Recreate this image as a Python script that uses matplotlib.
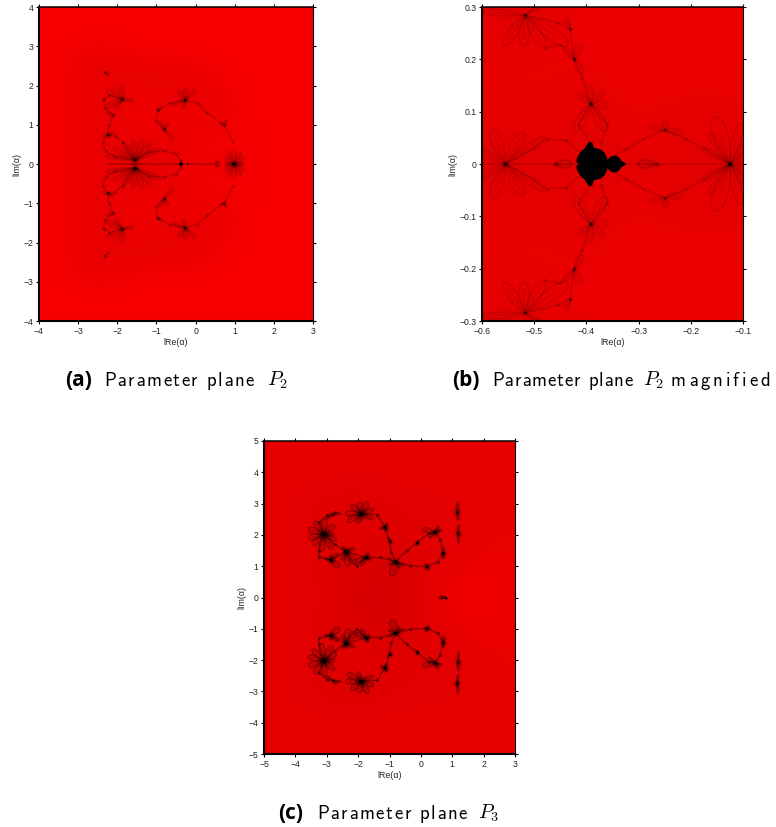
import numpy as np
import matplotlib
matplotlib.use("Agg")
import matplotlib.pyplot as plt
from matplotlib.colors import LinearSegmentedColormap
from matplotlib.patches import Polygon

W, H = 776, 827
plt.rcParams['font.family'] = ['Liberation Sans', 'DejaVu Sans']
plt.rcParams['mathtext.fontset'] = 'cm'
plt.rcParams['axes.unicode_minus'] = True

# ---- background red levels (upper half plane, bottom row is y = 0) ----
a_x = [-4, -3.5, -3, -2.5, -2, -1.5, -1, -.5, 0, .5, 1, 1.5, 2, 2.5, 3]
a_y = [0, .5, 1, 1.5, 2, 2.5, 3, 3.5, 4]
a_red = [
    [248, 246, 236, 234, 232, 228, 230, 234, 238, 242, 238, 244, 247, 248, 248],
    [248, 246, 236, 234, 232, 232, 234, 234, 238, 246, 240, 246, 248, 248, 248],
    [248, 246, 236, 234, 232, 240, 236, 240, 236, 238, 242, 247, 248, 248, 248],
    [248, 246, 236, 234, 232, 240, 236, 234, 234, 234, 240, 247, 248, 248, 248],
    [248, 246, 236, 234, 232, 232, 232, 232, 232, 236, 244, 248, 248, 248, 248],
    [248, 246, 236, 232, 232, 232, 232, 234, 238, 244, 248, 248, 248, 248, 248],
    [248, 248, 242, 240, 242, 246, 248, 248, 248, 248, 248, 248, 248, 248, 248],
    [248, 248, 248, 248, 248, 248, 248, 248, 248, 248, 248, 248, 248, 248, 248],
    [248, 248, 248, 248, 248, 248, 248, 248, 248, 248, 248, 248, 248, 248, 248],
]
b_x = [-.6, -.5, -.4, -.3, -.2, -.1]
b_y = [0, .1, .2, .3]
b_red = [
    [226, 226, 224, 228, 226, 226],
    [230, 232, 230, 234, 230, 232],
    [232, 234, 232, 236, 236, 236],
    [224, 224, 236, 236, 236, 236],
]
c_x = [-5, -4, -3, -2, -1, 0, 1, 2, 3]
c_y = [0, 1, 2, 3, 4, 5]
c_red = [
    [232, 226, 226, 216, 214, 226, 236, 250, 232],
    [232, 226, 224, 218, 214, 224, 230, 236, 232],
    [232, 226, 226, 228, 222, 226, 224, 232, 232],
    [232, 226, 222, 222, 224, 226, 226, 232, 232],
    [232, 232, 230, 228, 230, 232, 232, 232, 232],
    [232, 232, 232, 232, 232, 232, 232, 232, 232],
]

# ---- flowers: centre x, centre y, dot size, petals (angle, length, width) ----
a_flowers = [
    (-1.55, 0.10, 26, [(96, .50, .16), (68, .55, .16), (44, .62, .14), (24, .72, .14), (150, .62, .14),
                       (172, .75, .12), (125, .55, .14)]),
    (-1.87, 1.65, 12, [(95, .35, .14), (150, .45, .16), (205, .45, .16), (-10, .30, .10), (235, .30, .10)]),
    (-0.27, 1.62, 12, [(85, .30, .12), (45, .35, .12), (125, .30, .12), (200, .35, .12), (-100, .20, .08)]),
    (-0.80, 0.88, 8, [(-50, .35, .14), (120, .25, .12), (60, .2, .1)]),
    (0.73, 1.00, 5, [(60, .15, .08), (160, .12, .06)]),
    (-2.25, 0.75, 8, [(20, .15, .08), (200, .12, .08)]),
    (-2.12, 1.25, 5, [(150, .15, .08)]),
    (-0.97, 1.38, 5, [(30, .12, .06)]),
    (-2.32, 2.35, 5, [(-40, .15, .05)]),
    (0.98, 0.00, 10, [(90, .38, .14), (60, .34, .12), (30, .30, .10), (120, .36, .12), (0, .24, .10),
                      (150, .30, .10), (180, .22, .08)]),
    (0.52, 0.04, 2, [(0, .1, .08)]),
]
a_chains = [
    [(-2.35, 1.65), (-2.32, 1.42), (-2.12, 1.25), (-2.20, 1.00), (-2.25, .75), (-2.37, .55), (-2.30, .33),
     (-2.05, .18), (-1.55, .10)],
    [(-2.35, 1.65), (-2.2, 1.75), (-1.87, 1.65)],
    [(-2.25, .75), (-2.05, .72), (-1.85, .55), (-1.55, .10)],
    [(-1.55, .10), (-1.2, .30), (-0.8, .34), (-0.5, .26), (-0.38, .10), (-0.37, 0)],
    [(-0.27, 1.62), (-0.65, 1.55), (-0.97, 1.38), (-1.02, 1.1), (-0.80, .88)],
    [(-0.27, 1.62), (0.05, 1.55), (0.30, 1.30), (0.73, 1.00), (0.95, .55)],
]
a_axis_line = [(-2.25, 0), (0.55, 0)]

b_flowers = [
    (-0.518, 0.285, 6, [(-125, .07, .024), (-92, .06, .024), (-58, .07, .024), (-35, .10, .03), (175, .08, .016),
                        (30, .10, .016)]),
    (-0.423, 0.200, 5, [(70, .03, .016), (-60, .03, .016), (130, .03, .016)]),
    (-0.392, 0.115, 6, [(95, .035, .016), (45, .035, .016), (-5, .035, .014), (140, .03, .014), (-60, .06, .024),
                        (-120, .06, .024)]),
    (-0.555, 0.000, 10, [(62, .07, .024), (112, .07, .024), (150, .05, .016), (35, .09, .016)]),
    (-0.125, 0.000, 10, [(108, .095, .036), (75, .08, .022), (125, .07, .016), (150, .06, .014), (50, .07, .016),
                         (25, .05, .014)]),
    (-0.250, 0.065, 6, [(-10, .035, .016), (170, .03, .014), (80, .018, .012)]),
    (-0.460, 0.000, 5, [(0, .03, .02)]),
    (-0.265, 0.000, 5, [(180, .035, .02)]),
    (-0.430, 0.258, 3, [(120, .02, .01)]),
]
b_chains = [
    [(-0.555, 0), (-0.50, .030), (-0.475, .048), (-0.44, .045), (-0.41, .020)],
    [(-0.125, 0), (-0.175, .030), (-0.21, .048), (-0.25, .065), (-0.29, .048), (-0.325, .028), (-0.35, .014)],
    [(-0.392, .040), (-0.415, .075), (-0.392, .115)],
    [(-0.392, .115), (-0.36, .075), (-0.372, .040)],
    [(-0.392, .115), (-0.408, .165), (-0.423, .200), (-0.432, .258)],
    [(-0.518, .285), (-0.455, .27), (-0.432, .258)],
    [(-0.423, .200), (-0.45, .228), (-0.48, .222)],
]
b_axis_line = [(-0.6, 0), (-0.1, 0)]
b_body_x = [-.413, -.418, -.417, -.412, -.409, -.405, -.402, -.398, -.395, -.390, -.386, -.380, -.373, -.366, -.362,
            -.360, -.357, -.353, -.347, -.341, -.336, -.332, -.326]
b_body_top = [0, .004, .012, .019, .024, .027, .030, .036, .041, .040, .030, .029, .027, .021, .013,
              .006, .009, .013, .015, .014, .009, .004, .001]

c_flowers = [
    (-3.10, 2.02, 34, [(0, .35, .14), (40, .45, .20), (85, .50, .22), (125, .50, .22), (160, .50, .22), (195, .50, .22),
                       (225, .50, .22), (262, .55, .22), (300, .55, .20), (335, .45, .16)]),
    (-1.90, 2.68, 30, [(20, .42, .16), (60, .42, .20), (100, .36, .22), (140, .42, .20), (180, .50, .20), (210, .50, .20),
                       (250, .32, .16), (-25, .42, .14)]),
    (-2.40, 1.47, 18, [(-80, .48, .22), (-50, .50, .22), (-110, .30, .16), (20, .30, .12), (120, .18, .10)]),
    (-2.87, 1.20, 14, [(-40, .35, .22), (40, .3, .14), (170, .2, .10), (90, .15, .10)]),
    (-1.75, 1.28, 14, [(-120, .30, .16), (-160, .35, .16), (60, .15, .08), (-30, .15, .08)]),
    (-1.15, 2.25, 12, [(60, .15, .08), (200, .15, .08), (-60, .15, .08)]),
    (-1.00, 1.82, 7, [(120, .12, .06)]),
    (-0.80, 1.15, 12, [(-105, .45, .28), (-30, .3, .06), (-60, .25, .06), (205, .25, .06), (160, .25, .06)]),
    (0.45, 2.08, 14, [(165, .40, .20), (60, .22, .10), (-140, .25, .12), (20, .22, .08)]),
    (0.70, 1.42, 10, [(80, .18, .08), (-80, .18, .08)]),
    (0.18, 0.98, 10, [(100, .10, .06)]),
    (-0.12, 1.75, 7, [(60, .08, .05)]),
    (1.15, 2.72, 12, [(85, .32, .10), (-80, .25, .08)]),
    (1.18, 2.05, 10, [(85, .28, .08), (-85, .30, .05)]),
    (-2.80, 2.65, 3, [(10, .25, .06), (-150, .25, .08)]),
    (0.80, 0.00, 2, [(180, .2, .1)]),
]
c_chains = [
    [(-3.10, 2.02), (-3.25, 2.40), (-3.0, 2.62), (-2.75, 2.72)],
    [(-3.10, 2.02), (-3.25, 1.50), (-3.25, 1.30), (-2.87, 1.20)],
    [(-2.87, 1.20), (-2.40, 1.47), (-1.75, 1.28), (-1.30, 1.28), (-0.80, 1.15)],
    [(-2.40, 1.47), (-2.05, 1.00), (-1.75, 1.28)],
    [(-1.90, 2.68), (-1.40, 2.65), (-1.15, 2.25), (-1.00, 1.82), (-0.95, 1.45), (-0.80, 1.15)],
    [(-0.80, 1.15), (-0.45, 1.50), (-0.12, 1.75), (0.25, 2.05), (0.45, 2.08)],
    [(-0.80, 1.15), (-0.35, 1.02), (0.18, 0.98), (0.55, 1.15), (0.70, 1.42), (0.62, 1.85), (0.45, 2.08)],
    [(-3.10, 2.02), (-2.75, 1.70), (-2.40, 1.47)],
]

x_ticks = {'a': [-4, -3, -2, -1, 0, 1, 2, 3], 'b': [-.6, -.5, -.4, -.3, -.2, -.1], 'c': [-5, -4, -3, -2, -1, 0, 1, 2, 3]}
y_ticks = {'a': [-4, -3, -2, -1, 0, 1, 2, 3, 4], 'b': [-.3, -.2, -.1, 0, .1, .2, .3], 'c': [-5, -4, -3, -2, -1, 0, 1, 2, 3, 4, 5]}
x_tick_labels = {'a': ['\u22124', '\u22123', '\u22122', '\u22121', '0', '1', '2', '3'],
                 'b': ['\u22120.6', '\u22120.5', '\u22120.4', '\u22120.3', '\u22120.2', '\u22120.1'],
                 'c': ['\u22125', '\u22124', '\u22123', '\u22122', '\u22121', '0', '1', '2', '3']}
y_tick_labels = {'a': ['\u22124', '\u22123', '\u22122', '\u22121', '0', '1', '2', '3', '4'],
                 'b': ['\u22120.3', '\u22120.2', '\u22120.1', '0', '0.1', '0.2', '0.3'],
                 'c': ['\u22125', '\u22124', '\u22123', '\u22122', '\u22121', '0', '1', '2', '3', '4', '5']}
x_label = 'lRe(\u03b1)'
y_label = 'lIm(\u03b1)'

cmap = LinearSegmentedColormap.from_list('r', [(0, 0, 0), (1, 0, 0)])
fig = plt.figure(figsize=(W / 100, H / 100), dpi=100)


def make_axes(l, r, t, b):
    return fig.add_axes([l / W, 1 - b / H, (r - l) / W, (b - t) / H])


def background(ax, xs, ys, red):
    red = np.array(red, float)
    full = np.vstack([red[:0:-1], red])[::-1]
    ys = np.array(ys, float)
    dx, dy = xs[1] - xs[0], ys[1] - ys[0]
    ax.imshow(full, origin='upper', cmap=cmap, vmin=0, vmax=255, interpolation='bicubic', aspect='auto',
              extent=[xs[0] - dx / 2, xs[-1] + dx / 2, -ys[-1] - dy / 2, ys[-1] + dy / 2], zorder=0)


def soft_line(ax, x, y, strength, zorder=2):
    ax.plot(x, y, color='k', lw=1.5, alpha=strength * .3, solid_capstyle='round', zorder=zorder)
    ax.plot(x, y, color='k', lw=.55, alpha=strength * .55, solid_capstyle='round', zorder=zorder)


def draw_flower(ax, fl, strength):
    x, y, size, petals = fl
    t = np.linspace(0, 2 * np.pi, 60)
    u = (1 - np.cos(t)) / 2
    v = np.sin(t) * np.sqrt(u) / 2
    for sign in (1, -1):
        for ang, ln, wd in petals:
            a = np.radians(ang)
            px = ln * u * np.cos(a) - wd * v * np.sin(a)
            py = ln * u * np.sin(a) + wd * v * np.cos(a)
            soft_line(ax, x + px, sign * (y + py), strength)
            soft_line(ax, [x, x + .8 * ln * np.cos(a)], [sign * y, sign * (y + .8 * ln * np.sin(a))], strength * .7)
        for mult, al in ((3.0, strength * .25), (1.4, strength * .4), (.5, strength * .9)):
            ax.scatter([x], [sign * y], s=size * mult, color='k', alpha=al, lw=0, zorder=3)


def draw_chain(ax, pts, strength):
    p = np.array(pts)
    for sign in (1, -1):
        soft_line(ax, p[:, 0], sign * p[:, 1], strength)
        ax.scatter(p[:, 0], sign * p[:, 1], s=5, color='k', alpha=strength * .8, lw=0, zorder=2)


def finish(ax, key, xl, yl):
    ax.set_xlim(*xl)
    ax.set_ylim(*yl)
    ax.set_xticks(x_ticks[key], x_tick_labels[key])
    ax.set_yticks(y_ticks[key], y_tick_labels[key])
    ax.tick_params(axis='both', direction='out', length=2.5, width=.8, top=True, right=True,
                   labelsize=6.2, pad=1.5, colors='#222222')
    ax.tick_params(axis='both', color='k')
    ax.set_xlabel(x_label, fontsize=6.4, labelpad=1.5, color='#222222')
    ax.set_ylabel(y_label, fontsize=6.4, labelpad=1.5, color='#222222')
    for side, lw in (('left', 1.5), ('bottom', 1.5), ('top', 1.1), ('right', .8)):
        ax.spines[side].set_linewidth(lw)


# panel a
ax_a = make_axes(39, 313, 7, 321)
background(ax_a, a_x, a_y, a_red)
for c in a_chains:
    draw_chain(ax_a, c, .26)
for f in a_flowers:
    draw_flower(ax_a, f, .22)
soft_line(ax_a, *zip(*a_axis_line), .4)
ax_a.scatter([-0.37, -0.2], [0, 0], s=[7, 1.5], color='k', lw=0, zorder=4)
finish(ax_a, 'a', (-4, 3), (-4, 4))

# panel b
ax_b = make_axes(482, 743, 7, 321)
background(ax_b, b_x, b_y, b_red)
for c in b_chains:
    draw_chain(ax_b, c, .22)
for f in b_flowers:
    draw_flower(ax_b, f, .18)
soft_line(ax_b, *zip(*b_axis_line), .25)
body = list(zip(b_body_x, b_body_top)) + [(x, -y) for x, y in zip(b_body_x[::-1], b_body_top[::-1])]
ax_b.add_patch(Polygon(body, closed=True, color='k', lw=.8, zorder=5))
finish(ax_b, 'b', (-.6, -.1), (-.3, .3))

# panel c
ax_c = make_axes(264, 515, 441, 754)
background(ax_c, c_x, c_y, c_red)
for c in c_chains:
    draw_chain(ax_c, c, .55)
for f in c_flowers:
    draw_flower(ax_c, f, .5)
finish(ax_c, 'c', (-5, 3), (-5, 5))

# captions
renderer = fig.canvas.get_renderer()


def tracked(x, y, s, track):
    """Write s from pixel x on baseline y, with extra letter spacing."""
    probe = fig.text(0, 0, '', family='cmss10', fontsize=13.5)
    cur = x
    for i, ch in enumerate(s):
        if ch != ' ':
            fig.text(cur / W, 1 - y / H, ch, family='cmss10', fontsize=13.5, va='baseline', ha='left')
        w1, _, _ = renderer.get_text_width_height_descent(s[:i + 1] + '.', probe.get_fontproperties(), False)
        w0, _, _ = renderer.get_text_width_height_descent(s[:i] + '.', probe.get_fontproperties(), False)
        cur += (w1 - w0) + track
    probe.remove()


captions = [(65, 104, 267, 386, '(a)', '$P_2$', None, 0, 1.5),
            (452, 492, 643, 386, '(b)', '$P_2$', 'magnified', 671, .85),
            (278, 317, 478, 819, '(c)', '$P_3$', None, 0, 1.5)]
for tag_x, body_x, sym_x, y, tag, sym, extra, extra_x, trk in captions:
    fig.text(tag_x / W, 1 - y / H, tag, family='Open Sans', weight='bold', fontsize=15, va='baseline', ha='left')
    tracked(body_x, y, 'Parameter plane', trk)
    fig.text(sym_x / W, 1 - y / H, sym, fontsize=14.5, va='baseline', ha='left')
    if extra:
        tracked(extra_x, y, extra, 2.9)

fig.savefig('out.png', dpi=100)
